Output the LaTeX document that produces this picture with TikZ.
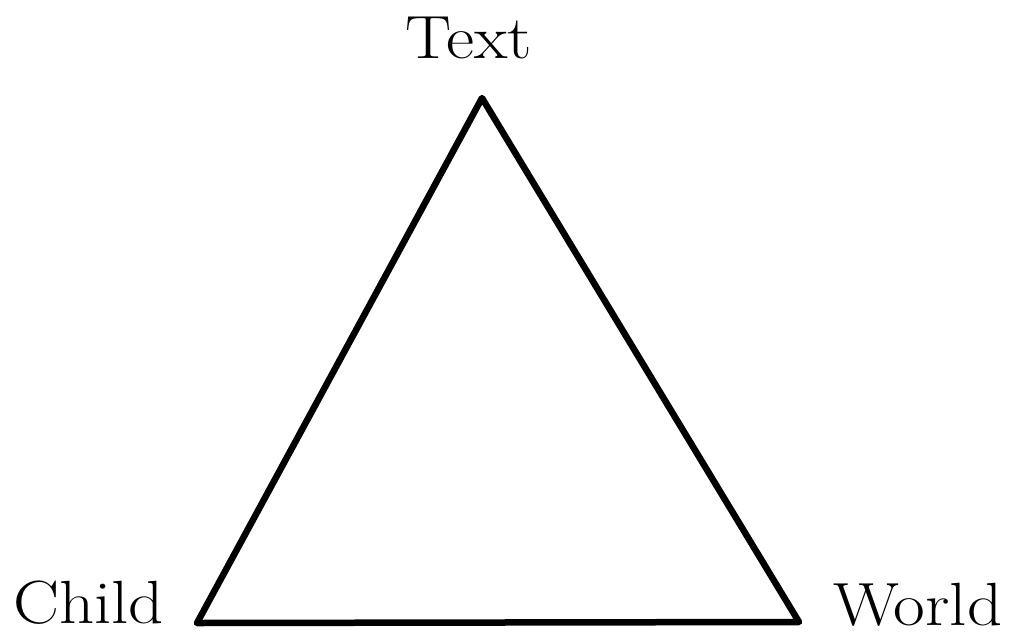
\documentclass[tikz,border=0pt]{standalone}
\begin{document}
\begin{tikzpicture}[x=1pt,y=-1pt,
  lbl/.style={inner sep=0pt,font=\fontsize{61}{70}\selectfont},
  edge/.style={line width=6.5pt,line join=round,line cap=round,black}]
\useasboundingbox (0,0) rectangle (1024,640);
\coordinate (T) at (482,98);
\coordinate (C) at (197,623);
\coordinate (W) at (799,622);
\node[lbl,anchor=base] (text) at (469,58) {\scalebox{1.13}[1]{Text}};
\node[lbl,anchor=base west] (child) at (13,623) {\scalebox{1.13}[1]{Child}};
\node[lbl,anchor=base west] (world) at (833,625) {\scalebox{1.13}[1]{World}};
\draw[edge] (T) -- (C) -- (W) -- cycle;
\end{tikzpicture}
\end{document}
